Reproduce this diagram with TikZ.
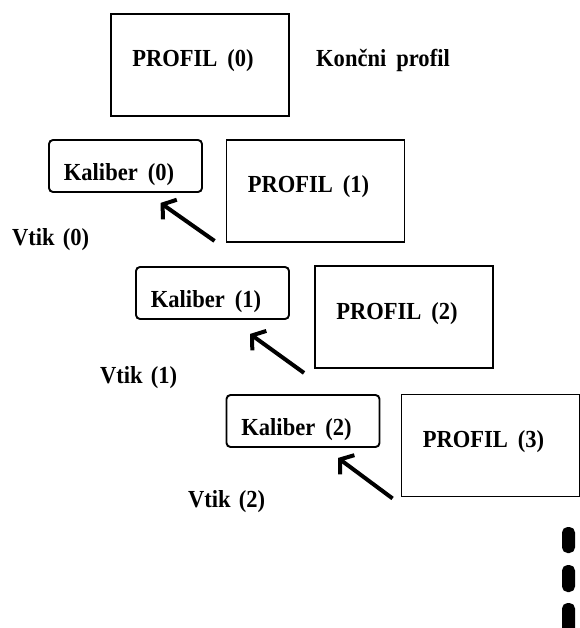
\documentclass[tikz,border=0pt]{standalone}
\usepackage{fontspec}
\setmainfont{Liberation Serif}[BoldFeatures={FakeStretch=0.92}]
\usetikzlibrary{arrows.meta}
\newcommand{\wgap}{\hspace{10pt}}
\tikzset{
  every node/.style={font=\bfseries\fontsize{24.5}{28}\selectfont, inner sep=0pt},
  profilbox/.style={draw, line width=1.9pt, minimum width=178pt, minimum height=102pt,
     text height=12pt, text depth=8pt, execute at end node={\hspace{14pt}}},
  kaliberbox/.style={draw, line width=1.9pt, rounded corners=4pt, minimum width=153pt, minimum height=52pt,
     text height=31pt, text depth=2pt, execute at end node={\hspace{13pt}}},
  vtikarrow/.style={line width=4pt, -{Straight Barb[length=9pt, width=24pt, line width=4pt]}},
  lbl/.style={anchor=base west}
}
\begin{document}
\begin{tikzpicture}[x=1pt, y=-1pt]
\useasboundingbox (0,0) rectangle (579,628);
% profiles
\node[profilbox] (p0) at (200,65) {PROFIL\wgap(0)};
\node[profilbox] (p1) at (315.5,191) {PROFIL\wgap(1)};
\node[profilbox] (p2) at (404,317) {PROFIL\wgap(2)};
\node[profilbox] (p3) at (490.5,445.5) {PROFIL\wgap(3)};
% calibres
\node[kaliberbox] (k0) at (125.5,166) {Kaliber\wgap(0)};
\node[kaliberbox] (k1) at (212.5,293) {Kaliber\wgap(1)};
\node[kaliberbox] (k2) at (303,421) {Kaliber\wgap(2)};
% labels
\node[lbl] (kp) at (316,67) {Kon\v{c}ni\wgap profil};
\node[lbl] (v0) at (12,245) {Vtik\hspace{8pt}(0)};
\node[lbl] (v1) at (100,383) {Vtik\hspace{8pt}(1)};
\node[lbl] (v2) at (188,507) {Vtik\hspace{8pt}(2)};
% arrows
\draw[vtikarrow] ([shift={(-11,-2)}]p1.south west) -- ([shift={(35,10)}]k0.south);
\draw[vtikarrow] ([shift={(-10,4)}]p2.south west) -- ([shift={(37.5,14)}]k1.south);
\draw[vtikarrow] ([shift={(-8,1)}]p3.south west) -- ([shift={(35,10)}]k2.south);
% continuation dots
\fill[rounded corners=5.5pt] (562,527) rectangle (575,553);
\fill[rounded corners=5.5pt] (562,565) rectangle (575,592);
\fill[rounded corners=5.5pt] (562,603) rectangle (575,640);
\end{tikzpicture}
\end{document}
